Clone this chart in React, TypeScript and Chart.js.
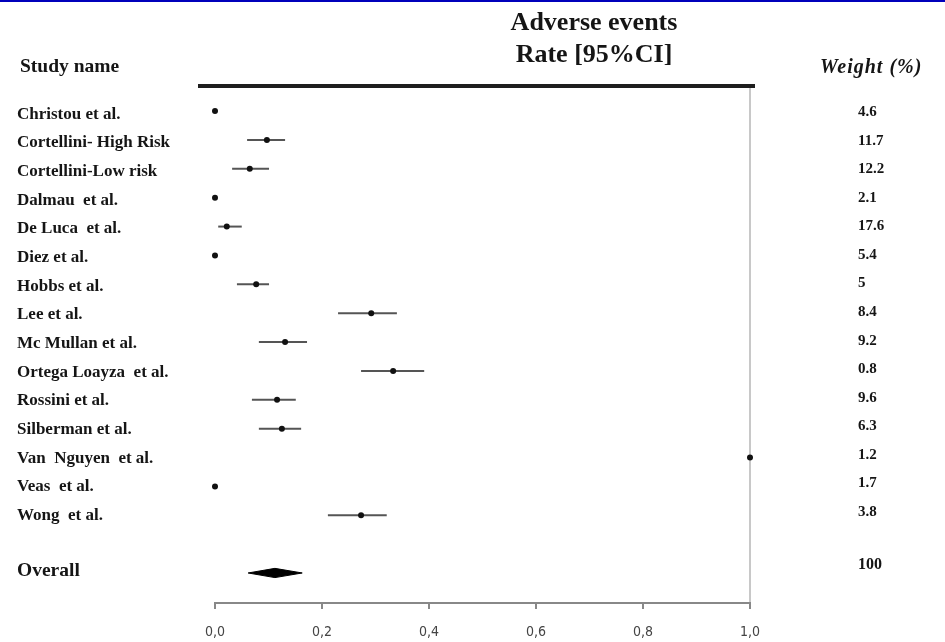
import React, { useEffect, useRef } from "react";
import { Chart, registerables } from "chart.js";

Chart.register(...registerables);

// ---- data ----
const studies = [
  "Christou et al.",
  "Cortellini- High Risk",
  "Cortellini-Low risk",
  "Dalmau  et al.",
  "De Luca  et al.",
  "Diez et al.",
  "Hobbs et al.",
  "Lee et al.",
  "Mc Mullan et al.",
  "Ortega Loayza  et al.",
  "Rossini et al.",
  "Silberman et al.",
  "Van  Nguyen  et al.",
  "Veas  et al.",
  "Wong  et al.",
];
const estimates = [0, 0.097, 0.065, 0, 0.022, 0, 0.077, 0.292, 0.131, 0.333, 0.116, 0.125, 1.0, 0, 0.273];
const lowerCI = [0, 0.06, 0.032, 0, 0.006, 0, 0.041, 0.23, 0.082, 0.273, 0.069, 0.082, 1.0, 0, 0.211];
const upperCI = [0, 0.131, 0.101, 0, 0.05, 0, 0.101, 0.34, 0.172, 0.391, 0.151, 0.161, 1.0, 0, 0.321];
const weights = ["4.6", "11.7", "12.2", "2.1", "17.6", "5.4", "5", "8.4", "9.2", "0.8", "9.6", "6.3", "1.2", "1.7", "3.8"];
const overallLabel = "Overall";
const overallEstimate = 0.112;
const overallLower = 0.062;
const overallUpper = 0.163;
const overallWeight = "100";
const xTicks = [0, 0.2, 0.4, 0.6, 0.8, 1.0];

// ---- layout constants ----
const W = 945;
const H = 642;
const OVERALL_ROW = studies.length + 1;
const DIAMOND_HALF = 0.16;
const SERIF = "'Liberation Serif', 'Times New Roman', serif";

const textPlugin = {
  id: "forestText",
  afterDraw(chart: any) {
    const ctx = chart.ctx;
    const xs = chart.scales.x;
    const ys = chart.scales.y;
    ctx.save();
    // top blue rule
    ctx.fillStyle = "#0000bb";
    ctx.fillRect(0, 0, W, 2);
    // thick header line
    ctx.fillStyle = "#1e1e1e";
    ctx.fillRect(xs.left - 17, chart.chartArea.top - 2, xs.right - xs.left + 22, 4);

    ctx.fillStyle = "#151515";
    ctx.textBaseline = "middle";
    ctx.textAlign = "center";
    ctx.font = `bold 26px ${SERIF}`;
    ctx.fillText("Adverse events", 594, 23);
    ctx.fillText("Rate [95%CI]", 594, 55);

    ctx.textAlign = "left";
    ctx.font = `bold 19.5px ${SERIF}`;
    ctx.fillText("Study name", 20, 67);
    ctx.font = `italic bold 20px ${SERIF}`;
    (ctx as any).letterSpacing = "1px";
    ctx.fillText("Weight (%)", 820, 68);
    (ctx as any).letterSpacing = "0px";

    ctx.font = `bold 17px ${SERIF}`;
    studies.forEach((s, i) => {
      ctx.fillText(s, 17, ys.getPixelForValue(i) + 3 - i * 0.2);
    });
    ctx.font = `bold 15px ${SERIF}`;
    weights.forEach((w, i) => {
      ctx.fillText(w, 858, ys.getPixelForValue(i) + 1 - i * 0.3);
    });
    ctx.font = `bold 19.5px ${SERIF}`;
    ctx.fillText(overallLabel, 17, ys.getPixelForValue(OVERALL_ROW) - 2);
    ctx.font = `bold 16px ${SERIF}`;
    ctx.fillText(overallWeight, 858, ys.getPixelForValue(OVERALL_ROW) - 8);
    ctx.restore();
  },
};

export default function App() {
  const ref = useRef<HTMLCanvasElement | null>(null);

  useEffect(() => {
    document.body.style.margin = "0";
    const ciSets = studies.map((_, i) => ({
      type: "line" as const,
      data: [
        { x: lowerCI[i], y: i },
        { x: upperCI[i], y: i },
      ],
      borderColor: "#555",
      borderWidth: 2,
      pointRadius: 0,
      clip: false as any,
      order: 2,
    }));
    const pointSet = {
      type: "scatter" as const,
      data: studies.map((_, i) => ({ x: estimates[i], y: i })),
      backgroundColor: "#111",
      borderColor: "#111",
      borderWidth: 0,
      pointRadius: 3,
      clip: false as any,
      order: 1,
    };
    const diamond = {
      type: "line" as const,
      data: [
        { x: overallLower, y: OVERALL_ROW },
        { x: overallEstimate, y: OVERALL_ROW - DIAMOND_HALF },
        { x: overallUpper, y: OVERALL_ROW },
        { x: overallEstimate, y: OVERALL_ROW + DIAMOND_HALF },
        { x: overallLower, y: OVERALL_ROW },
      ],
      borderColor: "#000",
      backgroundColor: "#000",
      borderWidth: 1,
      pointRadius: 0,
      fill: "shape",
      tension: 0,
      order: 0,
    };
    const chart = new Chart(ref.current as HTMLCanvasElement, {
      type: "scatter",
      data: { datasets: [...ciSets, pointSet, diamond] as any },
      options: {
        animation: false,
        responsive: true,
        maintainAspectRatio: false,
        layout: { padding: { left: 215, right: 195, top: 86, bottom: 0 } },
        plugins: { legend: { display: false }, tooltip: { enabled: false } },
        scales: {
          x: {
            type: "linear",
            min: 0,
            max: 1,
            afterFit: (s: any) => {
              s.height = 39;
            },
            afterBuildTicks: (s: any) => {
              s.ticks = xTicks.map((v) => ({ value: v }));
            },
            border: { display: true, color: "#888", width: 2 },
            grid: {
              color: (c: any) => (c.tick && c.tick.value === 1 ? "#c8c8c8" : "rgba(0,0,0,0)"),
              lineWidth: 2,
              tickColor: "#888",
              tickLength: 6,
              tickWidth: 2,
            },
            ticks: {
              padding: 15,
              color: "#444",
              font: { family: "'Liberation Sans Narrow', 'DejaVu Sans Condensed', 'Liberation Sans', sans-serif", size: 14 },
              callback: (v: any) => Number(v).toFixed(1).replace(".", ","),
            },
          },
          y: {
            type: "linear",
            display: false,
            reverse: true,
            min: -0.87,
            max: 17.04,
          },
        },
      },
      plugins: [textPlugin],
    });
    return () => chart.destroy();
  }, []);

  return (
    <div style={{ position: "absolute", left: 0, top: 0, width: W, height: H, background: "#fff" }}>
      <canvas ref={ref} />
    </div>
  );
}
